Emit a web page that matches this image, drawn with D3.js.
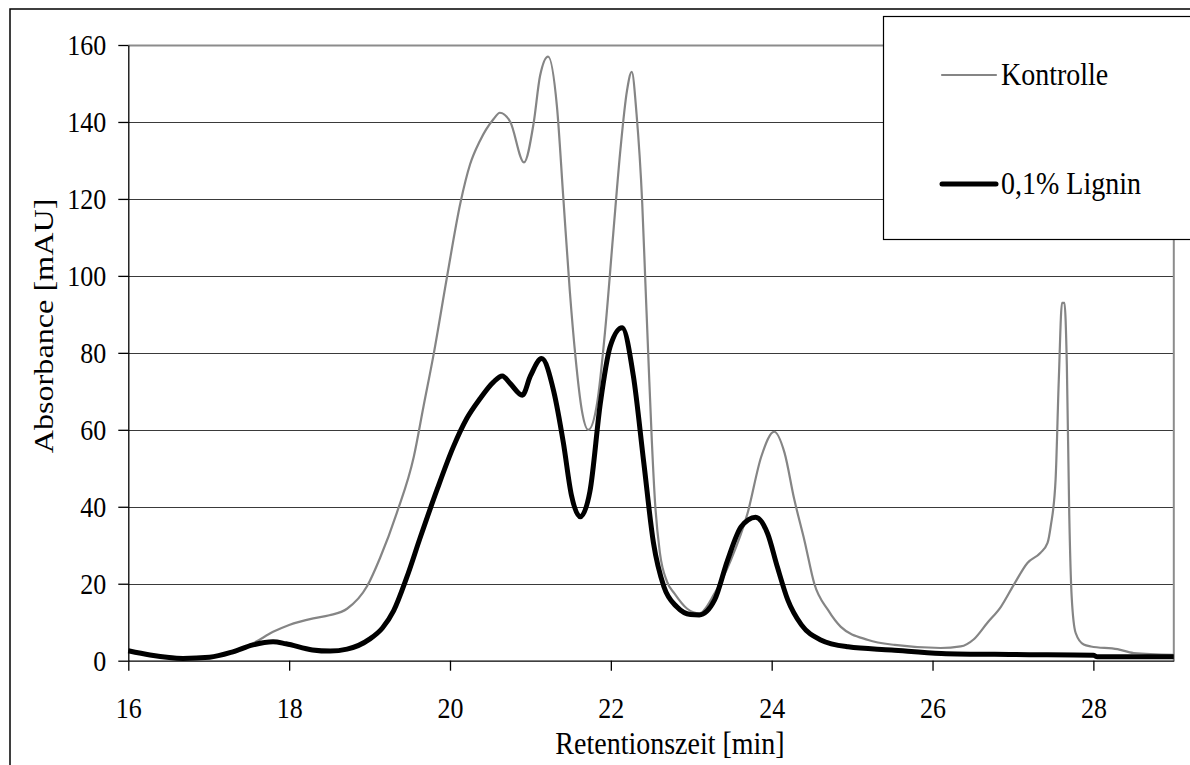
<!DOCTYPE html>
<html>
<head>
<meta charset="utf-8">
<script src="https://cdn.jsdelivr.net/npm/d3@7"></script>
<style>
    body { margin: 0; background: #fff; }
    text { font-family: "Liberation Serif", "Times New Roman", serif; fill: #000; }
</style>
</head>
<body>
<script>
//chromatogram: Kontrolle vs 0,1% Lignin

//retention time (min) and absorbance (mAU)
var kontrolleTime = [16.0, 16.3, 16.7, 17.0, 17.3, 17.55, 17.8, 18.0, 18.3, 18.5, 18.72, 18.97, 19.13, 19.34, 19.55, 19.67, 19.8, 19.96, 20.13, 20.25, 20.37, 20.54, 20.62, 20.75, 20.92, 21.04, 21.12, 21.22, 21.33, 21.41, 21.49, 21.56, 21.64, 21.72, 21.83, 21.93, 22.03, 22.12, 22.2, 22.26, 22.32, 22.39, 22.43, 22.47, 22.51, 22.55, 22.61, 22.7, 22.79, 22.95, 23.1, 23.29, 23.49, 23.7, 23.87, 24.03, 24.16, 24.28, 24.41, 24.53, 24.7, 24.86, 25.2, 25.53, 26.1, 26.35, 26.51, 26.68, 26.85, 27.01, 27.18, 27.34, 27.43, 27.47, 27.53, 27.57, 27.61, 27.64, 27.67, 27.7, 27.73, 27.78, 27.88, 27.97, 28.3, 28.5, 29.0];
var kontrolleValues = [2.5, 1.5, 0.8, 1.0, 2.5, 4.5, 7.5, 9.3, 11, 11.8, 13.5, 19.4, 26.7, 38.5, 53, 66, 80, 99.4, 119, 129, 135, 140.7, 142.4, 140, 129.5, 139.7, 152, 157, 144, 120, 96, 79, 65, 60, 67, 86, 111, 133, 148, 153, 142, 119, 98, 77, 57, 41, 28, 20.5, 17.5, 13.5, 12.3, 17.5, 26, 38.3, 53, 59.5, 54, 42, 31, 20, 13.2, 8.8, 5.4, 4.1, 3.3, 3.7, 5.5, 9.8, 14, 19.7, 25.4, 28, 30.6, 35, 47, 73, 93, 93, 77, 38, 16.7, 7.2, 4.2, 3.7, 3.0, 2.0, 1.5];

var ligninTime = [16.0, 16.27, 16.68, 17.01, 17.3, 17.55, 17.8, 17.96, 18.29, 18.51, 18.72, 19.0, 19.16, 19.3, 19.46, 19.63, 19.84, 20.04, 20.21, 20.37, 20.54, 20.65, 20.75, 20.9, 21.0, 21.14, 21.29, 21.41, 21.51, 21.62, 21.74, 21.87, 21.99, 22.14, 22.28, 22.41, 22.53, 22.66, 22.82, 22.99, 23.1, 23.29, 23.45, 23.62, 23.8, 23.95, 24.07, 24.2, 24.37, 24.61, 24.95, 25.49, 26.11, 27.0, 28.0, 28.05, 29.0];
var ligninValues = [2.6, 1.5, 0.6, 0.9, 2.3, 4.1, 4.9, 4.4, 2.8, 2.5, 3, 5.6, 8.5, 13, 21.5, 32, 44.5, 55.5, 63, 68, 72.4, 74, 72, 69, 74, 78.5, 70, 56.6, 43, 37.4, 44, 67, 81.5, 86.5, 74, 51.4, 30.6, 19.2, 14, 12, 11.9, 15.8, 26, 34.8, 37.3, 33, 24.4, 15.8, 9.3, 5.4, 3.6, 2.8, 1.9, 1.6, 1.4, 1.0, 1.0];

//tick labels
var xTicks = [16, 18, 20, 22, 24, 26, 28];
var yTicks = [0, 20, 40, 60, 80, 100, 120, 140, 160];

var seriesNames = ["Kontrolle", "0,1% Lignin"];

window.onload = function(){
    var w = 1190, h = 765;
    var stretch = 1.15; //text in the picture is a bit taller than wide

    var svg = d3.select("body")
        .append("svg")
        .attr("width", w)
        .attr("height", h);

    //outer chart frame (runs off the right and bottom)
    svg.append("rect")
        .attr("x", 10)
        .attr("y", 9)
        .attr("width", 1220)
        .attr("height", 800)
        .style("fill", "#fff")
        .style("stroke", "#000")
        .style("stroke-width", 1.5);

    //scales
    var x = d3.scaleLinear()
        .domain([16, 29])
        .range([128.3, 1173.8]);

    var y = d3.scaleLinear()
        .domain([0, 160])
        .range([660.7, 45]);

    //horizontal gridlines
    svg.selectAll(".grid")
        .data(yTicks.filter(function(d){ return d > 0; }))
        .enter()
        .append("line")
        .attr("class", "grid")
        .attr("x1", x(16))
        .attr("x2", x(29))
        .attr("y1", function(d){ return Math.round(y(d)) + 0.5; })
        .attr("y2", function(d){ return Math.round(y(d)) + 0.5; })
        .style("stroke", function(d){ return d == 160 ? "#8c8c8c" : "#3a3a3a"; })
        .style("stroke-width", function(d){ return d == 160 ? 2 : 1; });

    //right border of plot area (gray)
    svg.append("line")
        .attr("x1", x(29))
        .attr("x2", x(29))
        .attr("y1", y(160))
        .attr("y2", y(0))
        .style("stroke", "#8c8c8c")
        .style("stroke-width", 2);

    //series lines
    var kontrolle = kontrolleTime.map(function(t, i){ return [t, kontrolleValues[i]]; });
    var lignin = ligninTime.map(function(t, i){ return [t, ligninValues[i]]; });

    var line = d3.line()
        .x(function(d){ return x(d[0]); })
        .y(function(d){ return y(d[1]); })
        .curve(d3.curveMonotoneX);

    svg.append("path")
        .datum(kontrolle)
        .attr("d", line)
        .style("fill", "none")
        .style("stroke", "#858585")
        .style("stroke-width", 2.2);

    svg.append("path")
        .datum(lignin)
        .attr("d", line)
        .style("fill", "none")
        .style("stroke", "#000")
        .style("stroke-width", 5)
        .style("stroke-linejoin", "round");

    //x axis
    svg.append("g")
        .attr("transform", "translate(0," + y(0) + ")")
        .call(d3.axisBottom(x).tickValues(xTicks).tickSize(10).tickSizeOuter(0).tickPadding(21));

    //y axis
    svg.append("g")
        .attr("transform", "translate(" + x(16) + ",0)")
        .call(d3.axisLeft(y).tickValues(yTicks).tickSize(10).tickSizeOuter(0).tickPadding(12));

    svg.selectAll(".domain, .tick line")
        .style("stroke", "#000")
        .style("stroke-width", 1.3);

    svg.selectAll(".tick text")
        .attr("transform", "scale(1," + stretch + ")")
        .style("font-family", "'Liberation Serif', serif")
        .style("font-size", "26px")
        .style("fill", "#000");

    //axis titles
    svg.append("text")
        .attr("transform", "translate(670,754) scale(1," + stretch + ")")
        .attr("text-anchor", "middle")
        .style("font-size", "28px")
        .text("Retentionszeit [min]");

    svg.append("text")
        .attr("transform", "translate(53,326) rotate(-90) scale(" + stretch + ",1)")
        .attr("text-anchor", "middle")
        .style("font-size", "28px")
        .text("Absorbance [mAU]");

    //legend box
    var legend = svg.append("g").attr("class", "legend");

    legend.append("rect")
        .attr("x", 883.5)
        .attr("y", 16.5)
        .attr("width", 400)
        .attr("height", 223)
        .style("fill", "#fff")
        .style("stroke", "#000")
        .style("stroke-width", 1.2);

    var legendY = [75, 184];
    var legendStroke = ["#858585", "#000"];
    var legendWidth = [2.2, 5];

    legend.selectAll(".legendLine")
        .data(seriesNames)
        .enter()
        .append("line")
        .attr("class", "legendLine")
        .attr("x1", 942)
        .attr("x2", 996)
        .attr("y1", function(d, i){ return legendY[i]; })
        .attr("y2", function(d, i){ return legendY[i]; })
        .style("stroke", function(d, i){ return legendStroke[i]; })
        .style("stroke-width", function(d, i){ return legendWidth[i]; })
        .style("stroke-linecap", "round");

    legend.selectAll(".legendText")
        .data(seriesNames)
        .enter()
        .append("text")
        .attr("class", "legendText")
        .attr("transform", function(d, i){
            return "translate(1001," + (legendY[i] + 10) + ") scale(1," + stretch + ")";
        })
        .style("font-size", "28px")
        .text(function(d){ return d; });
};
</script>
</body>
</html>
